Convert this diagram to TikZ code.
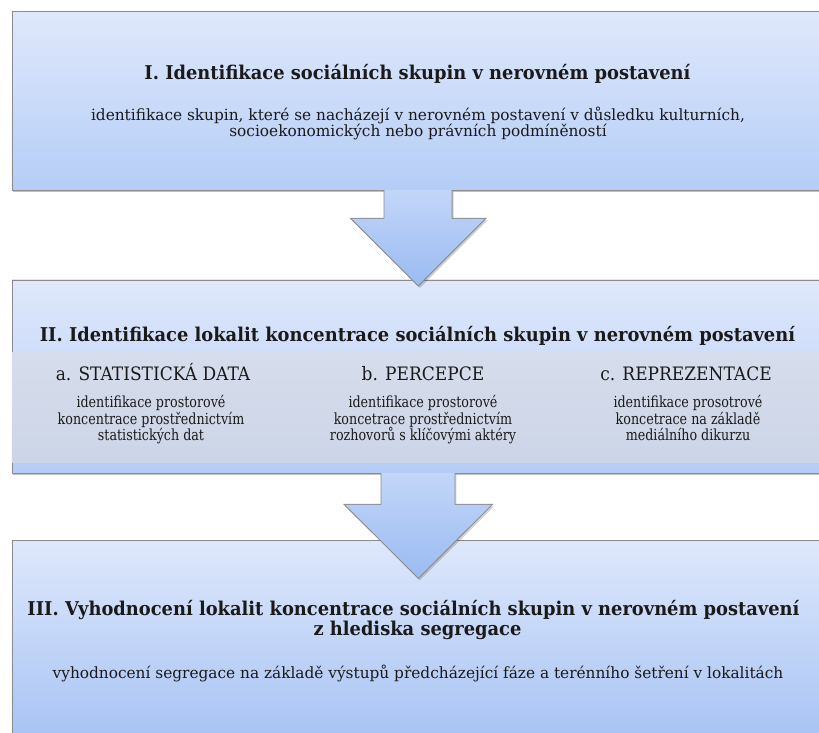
\documentclass[tikz,border=0pt]{standalone}
\usepackage{fontspec}
\setmainfont{DejaVu Serif}[FakeStretch=0.87]
\newfontfamily\titlefam{DejaVu Serif}[FakeStretch=0.94]
\newfontfamily\subfam{DejaVu Serif}[FakeStretch=0.99]
\newfontfamily\headfam{DejaVu Serif}[FakeStretch=0.92]
\newfontfamily\bodyfam{DejaVu Serif}[FakeStretch=0.83]
\usetikzlibrary{shadows}
\definecolor{boxtop}{HTML}{DFE8FB}
\definecolor{boxbot}{HTML}{B5CDF7}
\definecolor{boxbotdeep}{HTML}{A4C1F4}
\definecolor{arrtop}{HTML}{C2D6F8}
\definecolor{arrbot}{HTML}{9BBBF2}
\definecolor{bandtop}{HTML}{D6DDEC}
\definecolor{bandbot}{HTML}{CCD5E7}
\definecolor{edge}{HTML}{8C8C8C}
\definecolor{ink}{HTML}{1A1A1A}
\newcommand\titlefont{\titlefam\fontsize{19}{22}\selectfont\bfseries}
\newcommand\subfont{\subfam\fontsize{15.5}{18}\selectfont}
\newcommand\headfont{\headfam\fontsize{18.5}{22}\selectfont}
\newcommand\bodyfont{\bodyfam\fontsize{15.3}{18}\selectfont}
\begin{document}
\begin{tikzpicture}[x=1pt,y=-1pt,
  phasebox/.style={draw=edge, line width=0.8pt, anchor=north west, inner sep=0pt,
     top color=boxtop, bottom color=boxbot,
     drop shadow={shadow xshift=1pt, shadow yshift=-2pt, opacity=0.35, fill=black!70}},
  band/.style={anchor=north west, inner sep=0pt, top color=bandtop, bottom color=bandbot},
  txt/.style={anchor=base, inner sep=0pt, text=ink},
  title/.style={txt, font=\titlefont},
  sub/.style={txt, font=\subfont},
  head/.style={txt, font=\headfont},
  body/.style={txt, font=\bodyfont},
  arrfill/.style={top color=arrtop, bottom color=arrbot},
  arredge/.style={draw=edge, line width=0.8pt, line join=miter},
  arrshadow/.style={fill=black, opacity=0.18}
]
\useasboundingbox (0,0) rectangle (819,733);
\clip (0,0) rectangle (819,733);

% boxes
\node[phasebox, minimum width=830pt, minimum height=178.5pt] (b1) at (11.5,11.5) {};
\node[phasebox, minimum width=830pt, minimum height=193.5pt] (b2) at (11.5,279.5) {};
\node[phasebox, minimum width=830pt, minimum height=210pt, bottom color=boxbotdeep] (b3) at (11.5,540) {};

% grey band of box II
\node[band, minimum width=278pt, minimum height=110pt] (ca) at (12,352) {};
\node[band, minimum width=267pt, minimum height=110pt] (cb) at (290,352) {};
\node[band, minimum width=262pt, minimum height=110pt] (cc) at (557,352) {};

% arrow 1 (b1 -> b2)
\coordinate (a1s) at (418.3,190);
\coordinate (a1t) at (418.3,286);
\fill[arrshadow] ([shift={(1.5,2)}]a1s) ++(-34.3,0) -- ++(0,28.3) -- ++(-33.5,0) -- ([shift={(1.5,2)}]a1t) -- ++(67.7,-67.7) -- ++(-34,0) -- ++(0,-28.3) -- cycle;
\fill[arrfill] (a1s) ++(-34.3,0) -- ++(0,28.3) -- ++(-33.5,0) -- (a1t) -- ++(67.7,-67.7) -- ++(-34,0) -- ++(0,-28.3) -- cycle;
\draw[arredge] (a1s) ++(-34.3,0) -- ++(0,28.3) -- ++(-33.5,0) -- (a1t) -- ++(67.7,-67.7) -- ++(-34,0) -- ++(0,-28.3);

% arrow 2 (b2 -> b3)
\coordinate (a2s) at (418.3,473);
\coordinate (a2t) at (418.3,578.3);
\fill[arrshadow] ([shift={(1.5,2)}]a2s) ++(-37.3,0) -- ++(0,31.3) -- ++(-37,0) -- ([shift={(1.5,2)}]a2t) -- ++(74.3,-74) -- ++(-37.7,0) -- ++(0,-31.3) -- cycle;
\fill[arrfill] (a2s) ++(-37.3,0) -- ++(0,31.3) -- ++(-37,0) -- (a2t) -- ++(74.3,-74) -- ++(-37.7,0) -- ++(0,-31.3) -- cycle;
\draw[arredge] (a2s) ++(-37.3,0) -- ++(0,31.3) -- ++(-37,0) -- (a2t) -- ++(74.3,-74) -- ++(-37.7,0) -- ++(0,-31.3);

% texts box I
\node[title] (t1) at (417.5,80) {I. Identifikace sociálních skupin v nerovném postavení};
\node[sub] (s1a) at (418,121) {identifikace skupin, které se nacházejí v nerovném postavení v důsledku kulturních,};
\node[sub] (s1b) at (418,137) {socioekonomických nebo právních podmíněností};

% texts box II
\node[title] (t2) at (417.5,341) {II. Identifikace lokalit koncentrace sociálních skupin v nerovném postavení};
\node[head] (ha) at (153,380) {a. STATISTICKÁ DATA};
\node[body] (ba1) at (151,407.5) {identifikace prostorové};
\node[body] (ba2) at (151,424) {koncentrace prostřednictvím};
\node[body] (ba3) at (151,440.5) {statistických dat};
\node[head] (hb) at (423,380) {b. PERCEPCE};
\node[body] (bb1) at (423,407.5) {identifikace prostorové};
\node[body] (bb2) at (423,424) {koncetrace prostřednictvím};
\node[body] (bb3) at (423,440.5) {rozhovorů s klíčovými aktéry};
\node[head] (hc) at (686,380) {c. REPREZENTACE};
\node[body] (bc1) at (688,407.5) {identifikace prosotrové};
\node[body] (bc2) at (688,424) {koncetrace na základě};
\node[body] (bc3) at (688,440.5) {mediálního dikurzu};

% texts box III
\node[title] (t3a) at (413.5,615) {III. Vyhodnocení lokalit koncentrace sociálních skupin v nerovném postavení};
\node[title] (t3b) at (417.5,635.5) {z hlediska segregace};
\node[sub] (s3) at (418,678) {vyhodnocení segregace na základě výstupů předcházející fáze a terénního šetření v lokalitách};
\end{tikzpicture}
\end{document}
